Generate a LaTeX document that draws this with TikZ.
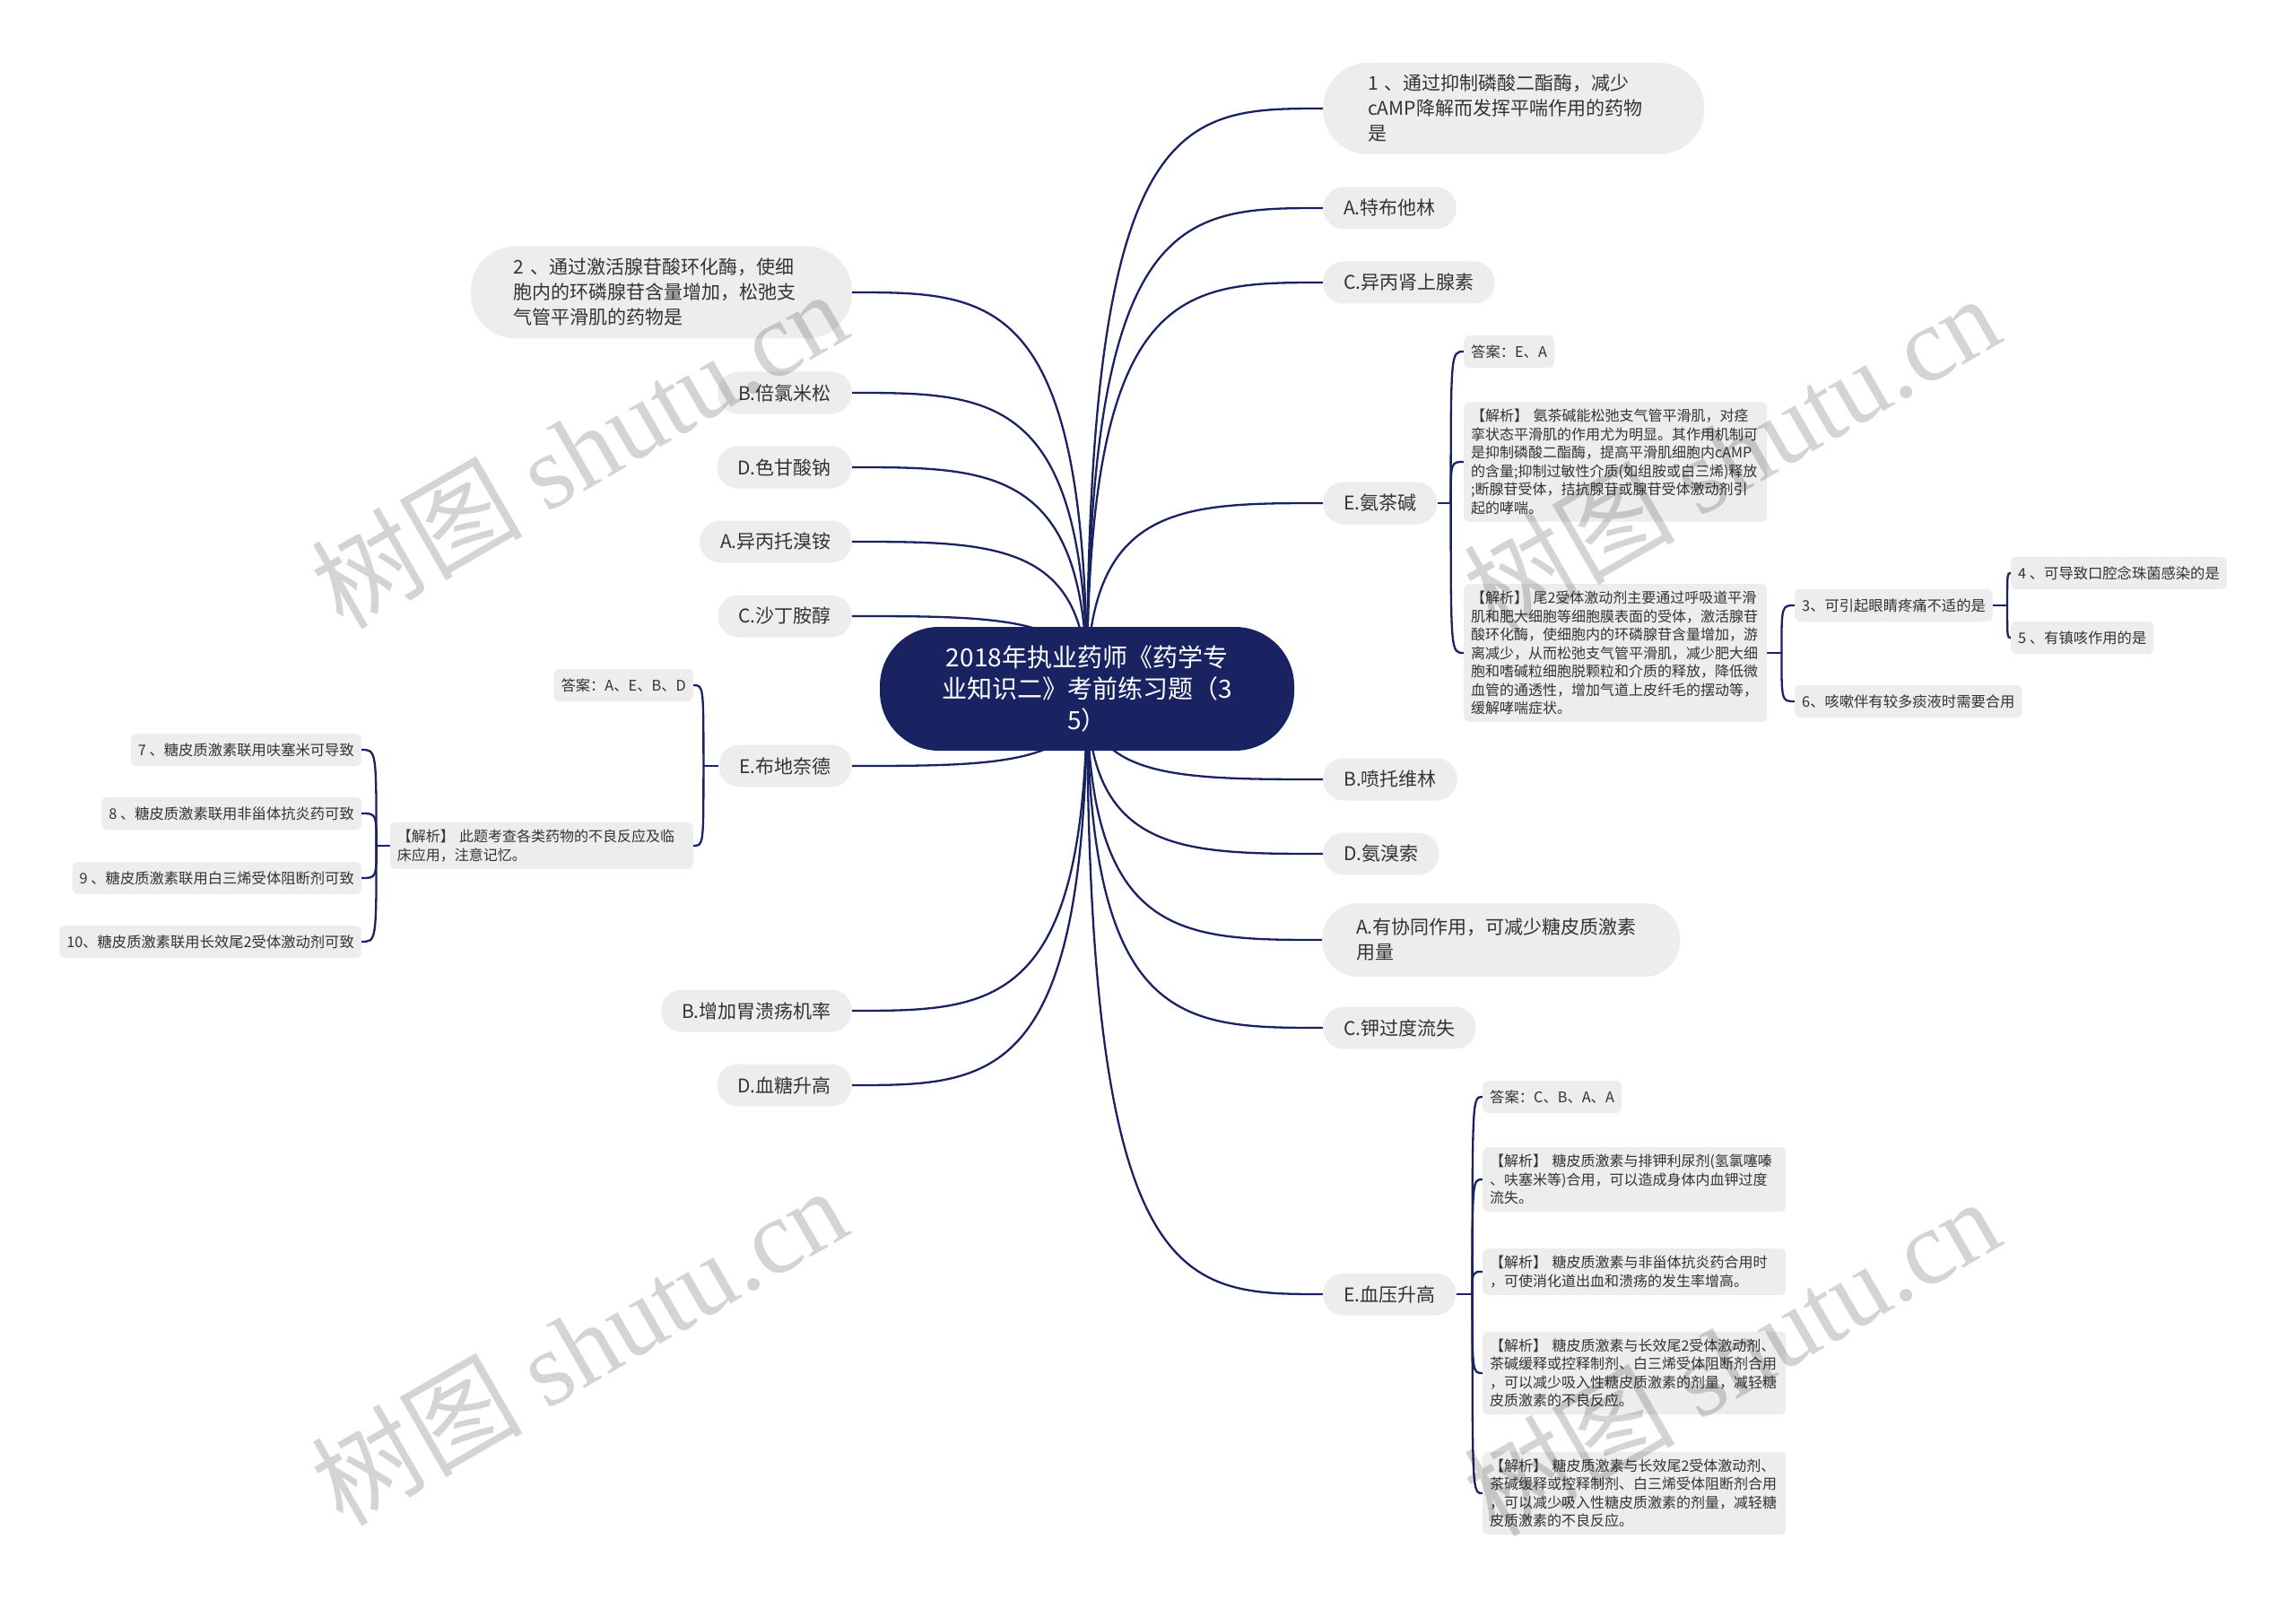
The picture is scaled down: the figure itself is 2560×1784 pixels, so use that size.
\documentclass[tikz,border=0pt]{standalone}
\usepackage{fontspec}
\setmainfont{Noto Sans CJK SC}
\newfontfamily\wmserif{Liberation Serif}
\usetikzlibrary{backgrounds,calc}
\definecolor{navy}{RGB}{26,35,98}
\definecolor{pill}{RGB}{237,237,237}
\definecolor{txt}{RGB}{51,51,51}
\begin{document}
\begin{tikzpicture}[x=1pt,y=-1pt,
 conn/.style={draw=navy,line width=2.3pt},
 main/.style={fill=pill,text=txt,rounded corners=23pt,minimum height=47pt,inner xsep=23pt,inner ysep=0pt,font=\fontsize{21}{28}\selectfont},
 mainml/.style={fill=pill,text=txt,align=left,inner ysep=0pt,font=\fontsize{21}{28}\selectfont},
 leaf/.style={fill=pill,text=txt,rounded corners=6pt,minimum height=36pt,inner xsep=8pt,inner ysep=0pt,font=\fontsize{16.3}{20.5}\selectfont},
 note/.style={fill=pill,text=txt,rounded corners=6pt,inner xsep=8pt,inner ysep=8pt,text width=322pt,align=left,font=\fontsize{16}{20.5}\selectfont},
 wm/.style={text=black,text opacity=0.17,rotate=30,font=\fontsize{118}{124}\selectfont}
]
\useasboundingbox (0,0) rectangle (2560,1784);

% centre
\node[fill=navy,text=white,rounded corners=66pt,minimum width=462pt,minimum height=138pt,align=center,inner sep=0pt,font=\fontsize{28}{35}\selectfont] (c) at (1212,768) {2018年执业药师《药学专\\业知识二》考前练习题（3\\5）};

% right main
\node[mainml,anchor=west,rounded corners=50pt,minimum height=102pt,text width=325pt,inner xsep=50pt] (r1) at (1475,121) {1 、通过抑制磷酸二酯酶，减少\\cAMP降解而发挥平喘作用的药物\\是};
\node[main,anchor=west] (r2) at (1475,232) {A.特布他林};
\node[main,anchor=west] (r3) at (1475,315) {C.异丙肾上腺素};
\node[main,anchor=west] (r4) at (1475,561) {E.氨茶碱};
\node[main,anchor=west] (r5) at (1475,869) {B.喷托维林};
\node[main,anchor=west] (r6) at (1475,952) {D.氨溴索};
\node[mainml,anchor=west,rounded corners=40pt,minimum height=82pt,text width=323pt,inner xsep=38pt] (r7) at (1474,1048) {A.有协同作用，可减少糖皮质激素\\用量};
\node[main,anchor=west] (r8) at (1475,1146) {C.钾过度流失};
\node[main,anchor=west] (r9) at (1475,1443) {E.血压升高};

% left main
\node[mainml,anchor=east,rounded corners=50pt,minimum height=103pt,text width=329pt,inner xsep=48pt] (l1) at (950,326) {2 、通过激活腺苷酸环化酶，使细\\胞内的环磷腺苷含量增加，松弛支\\气管平滑肌的药物是};
\node[main,anchor=east] (l2) at (950,438) {B.倍氯米松};
\node[main,anchor=east] (l3) at (950,521) {D.色甘酸钠};
\node[main,anchor=east] (l4) at (950,604) {A.异丙托溴铵};
\node[main,anchor=east] (l5) at (950,687) {C.沙丁胺醇};
\node[main,anchor=east] (l6) at (950,854) {E.布地奈德};
\node[main,anchor=east] (l7) at (950,1127) {B.增加胃溃疡机率};
\node[main,anchor=east] (l8) at (950,1210) {D.血糖升高};

% E.氨茶碱 details
\node[leaf,anchor=west] (a1) at (1632,392) {答案：E、A};
\node[note,anchor=west] (a2) at (1632,515) {【解析】~氨茶碱能松弛支气管平滑肌，对痉\\挛状态平滑肌的作用尤为明显。其作用机制可\\是抑制磷酸二酯酶，提高平滑肌细胞内cAMP\\的含量;抑制过敏性介质(如组胺或白三烯)释放\\;断腺苷受体，拮抗腺苷或腺苷受体激动剂引\\起的哮喘。};
\node[note,anchor=west] (a3) at (1632,728) {【解析】~尾2受体激动剂主要通过呼吸道平滑\\肌和肥大细胞等细胞膜表面的受体，激活腺苷\\酸环化酶，使细胞内的环磷腺苷含量增加，游\\离减少，从而松弛支气管平滑肌，减少肥大细\\胞和嗜碱粒细胞脱颗粒和介质的释放，降低微\\血管的通透性，增加气道上皮纤毛的摆动等，\\缓解哮喘症状。};
\node[leaf,anchor=west] (b1) at (2001,675) {3、可引起眼睛疼痛不适的是};
\node[leaf,anchor=west] (b2) at (2001,782) {6、咳嗽伴有较多痰液时需要合用};
\node[leaf,anchor=west] (c1) at (2242,639) {4 、可导致口腔念珠菌感染的是};
\node[leaf,anchor=west] (c2) at (2242,711) {5 、有镇咳作用的是};

% E.血压升高 details
\node[leaf,anchor=west] (d1) at (1653,1223) {答案：C、B、A、A};
\node[note,anchor=west] (d2) at (1653,1315) {【解析】~糖皮质激素与排钾利尿剂(氢氯噻嗪\\、呋塞米等)合用，可以造成身体内血钾过度\\流失。};
\node[note,anchor=west] (d3) at (1653,1418) {【解析】~糖皮质激素与非甾体抗炎药合用时\\，可使消化道出血和溃疡的发生率增高。};
\node[note,anchor=west] (d4) at (1653,1531) {【解析】~糖皮质激素与长效尾2受体激动剂、\\茶碱缓释或控释制剂、白三烯受体阻断剂合用\\，可以减少吸入性糖皮质激素的剂量，减轻糖\\皮质激素的不良反应。};
\node[note,anchor=west] (d5) at (1653,1665) {【解析】~糖皮质激素与长效尾2受体激动剂、\\茶碱缓释或控释制剂、白三烯受体阻断剂合用\\，可以减少吸入性糖皮质激素的剂量，减轻糖\\皮质激素的不良反应。};

% E.布地奈德 details
\node[leaf,anchor=east] (e1) at (773,764) {答案：A、E、B、D};
\node[note,anchor=east] (e2) at (773,943) {【解析】~此题考查各类药物的不良反应及临\\床应用，注意记忆。};
\node[leaf,anchor=east] (f1) at (403,836) {7 、糖皮质激素联用呋塞米可导致};
\node[leaf,anchor=east] (f2) at (403,907) {8 、糖皮质激素联用非甾体抗炎药可致};
\node[leaf,anchor=east] (f3) at (403,979) {9 、糖皮质激素联用白三烯受体阻断剂可致};
\node[leaf,anchor=east] (f4) at (403,1050) {10、糖皮质激素联用长效尾2受体激动剂可致};

% junctions
\coordinate (ja) at ([xshift=15pt]r4.east);
\coordinate (jd) at ([xshift=18pt]r9.east);
\coordinate (jb) at ([xshift=16pt]a3.east);
\coordinate (jc) at ([xshift=16pt]b1.east);
\coordinate (je) at ([xshift=-17pt]l6.west);
\coordinate (jf) at ([xshift=-15pt]e2.west);

\begin{scope}[on background layer]
 \fill[white] (0,0) rectangle (2560,1784);
 \foreach \n in {r1,r2,r3,r4,r5,r6,r7,r8,r9}
  \draw[conn] (c.center) .. controls (c.center |- \n.west) and ($(c.center |- \n.west)!0.4!(\n.west)$) .. (\n.west);
 \foreach \n in {l1,l2,l3,l4,l5,l6,l7,l8}
  \draw[conn] (c.center) .. controls (c.center |- \n.east) and ($(c.center |- \n.east)!0.4!(\n.east)$) .. (\n.east);
 \draw[conn] (r4.east) -- (ja);
 \foreach \n in {a1,a2,a3} \draw[conn] (ja) .. controls (ja |- \n.west) .. (\n.west);
 \draw[conn] (r9.east) -- (jd);
 \foreach \n in {d1,d2,d3,d4,d5} \draw[conn] (jd) .. controls (jd |- \n.west) .. (\n.west);
 \draw[conn] (a3.east) -- (jb);
 \foreach \n in {b1,b2} \draw[conn] (jb) .. controls (jb |- \n.west) .. (\n.west);
 \draw[conn] (b1.east) -- (jc);
 \foreach \n in {c1,c2} \draw[conn] (jc) .. controls (jc |- \n.west) .. (\n.west);
 \draw[conn] (l6.west) -- (je);
 \foreach \n in {e1,e2} \draw[conn] (je) .. controls (je |- \n.east) .. (\n.east);
 \draw[conn] (e2.west) -- (jf);
 \foreach \n in {f1,f2,f3,f4} \draw[conn] (jf) .. controls (jf |- \n.east) .. (\n.east);
\end{scope}

% watermarks
\node[wm] (w1) at (645,500) {树图 {\wmserif shutu.cn}};
\node[wm] (w2) at (645,1500) {树图 {\wmserif shutu.cn}};
\node[wm] (w3) at (1930,505) {树图 {\wmserif shutu.cn}};
\node[wm] (w4) at (1930,1512) {树图 {\wmserif shutu.cn}};
\end{tikzpicture}
\end{document}
